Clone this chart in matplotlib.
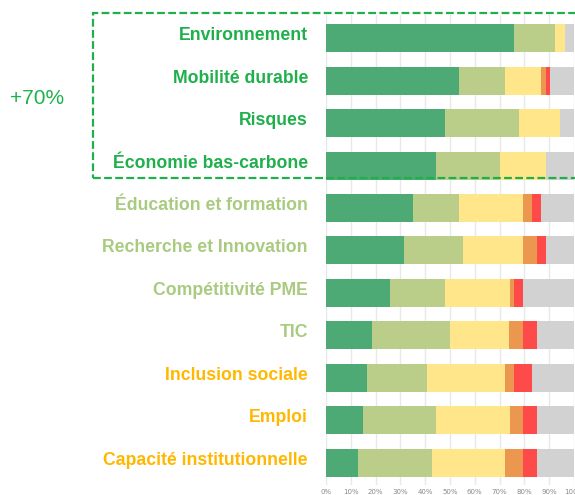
import matplotlib
matplotlib.use("Agg")
import matplotlib.pyplot as plt
import matplotlib.patches as mpatches
import matplotlib.transforms as mtransforms
import numpy as np

categories = ["Environnement", "Mobilité durable", "Risques", "Économie bas-carbone",
              "Éducation et formation", "Recherche et Innovation", "Compétitivité PME",
              "TIC", "Inclusion sociale", "Emploi", "Capacité institutionnelle"]
label_groups = [0, 0, 0, 0, 1, 1, 1, 1, 2, 2, 2]

s_green = [75.7, 53.6, 48.1, 44.3, 35.0, 31.4, 25.8, 18.4, 16.6, 14.8, 13.0]
s_lgreen = [16.6, 18.5, 29.6, 25.8, 18.6, 24.0, 22.3, 31.5, 24.1, 29.5, 29.6]
s_yellow = [3.9, 14.7, 16.5, 18.5, 25.9, 24.1, 25.9, 23.9, 31.4, 29.7, 29.5]
s_orange = [0.0, 1.8, 0.0, 0.0, 3.7, 5.6, 1.7, 5.7, 3.6, 5.5, 7.4]
s_red = [0.0, 1.9, 0.0, 0.0, 3.6, 3.5, 3.8, 5.5, 7.5, 5.5, 5.5]
s_grey = [3.8, 9.5, 5.8, 11.4, 13.2, 11.4, 20.5, 15.0, 16.8, 15.0, 15.0]
tick_labels = ["0%", "10%", "20%", "30%", "40%", "50%", "60%", "70%", "80%", "90%", "100%"]
annotation = "+70%"

series = [s_green, s_lgreen, s_yellow, s_orange, s_red, s_grey]
colors = ["#4DAA74", "#BACE8A", "#FFE68B", "#EC974F", "#FF4A4A", "#D2D2D2"]
label_colors = ["#1FB04C", "#A9CB80", "#FFB700"]

fig = plt.figure(figsize=(5.75, 4.95), dpi=100)
ax = fig.add_axes([326/575, 1-485/495, 248/575, 470/495])

y = np.arange(len(categories))
left = np.zeros(len(categories))
for vals, c in zip(series, colors):
    ax.barh(y, vals, left=left, height=0.66, color=c, zorder=3)
    left += np.array(vals)

ax.set_xlim(0, 100)
ax.set_ylim(10.53, -0.55)
ax.set_xticks(np.arange(0, 101, 10))
ax.set_xticklabels(tick_labels, fontsize=5, color="#8a8a8a")
ax.tick_params(axis="x", length=0, pad=3)
ax.grid(axis="x", color="#e8e8e8", linewidth=1.0, zorder=0)
for s in ax.spines.values():
    s.set_visible(False)

ax.set_yticks(y)
ax.set_yticklabels(categories, fontsize=12.7, fontweight="bold", family="Liberation Sans")
ax.tick_params(axis="y", length=0, pad=13)
offset = mtransforms.ScaledTranslation(0, 4.5/100, fig.dpi_scale_trans)
for lbl, g in zip(ax.get_yticklabels(), label_groups):
    lbl.set_color(label_colors[g])
    lbl.set_transform(lbl.get_transform() + offset)

rect = mpatches.Rectangle((93/575, 1-178/495), (585-93)/575, (178-13)/495,
                          transform=fig.transFigure, fill=False, edgecolor="#1FB04C",
                          linewidth=1.6, linestyle=(0, (3.5, 1.5)), clip_on=False)
fig.patches.append(rect)

fig.text(37/575, 1-98/495, annotation, ha="center", va="center", fontsize=15,
         color="#1FB04C", family="Liberation Sans")

fig.savefig("out.png", dpi=100)
